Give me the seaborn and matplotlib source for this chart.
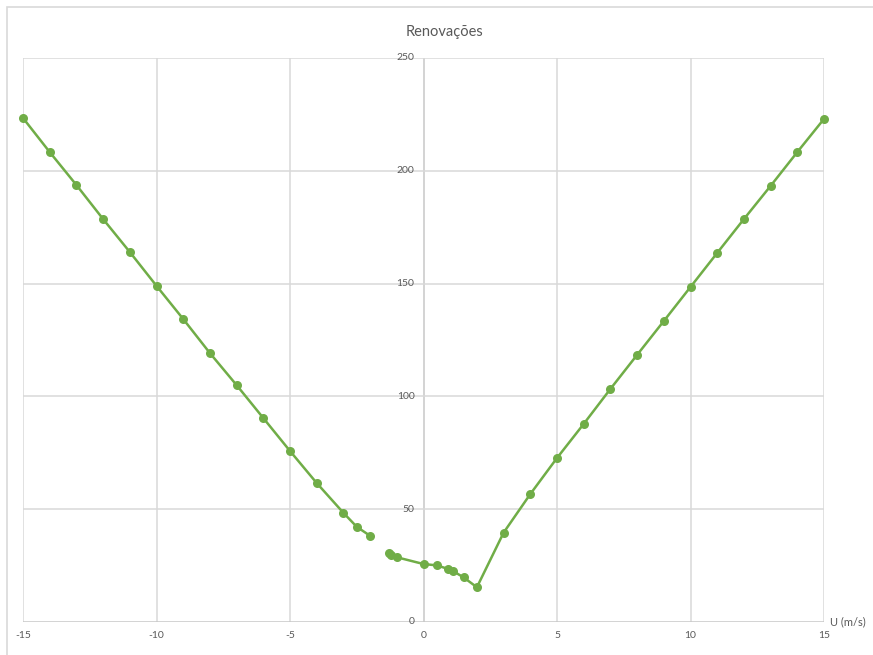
import matplotlib
matplotlib.use("Agg")
import matplotlib.pyplot as plt
import seaborn as sns
import pandas as pd
from matplotlib.patches import Rectangle

# ---- data ----
u_left = [-15, -14, -13, -12, -11, -10, -9, -8, -7, -6, -5, -4, -3, -2.5, -2]
renov_left = [223.4, 208.3, 193.7, 178.6, 164.0, 149.0, 134.3, 119.2, 105.0, 90.4,
              75.8, 61.6, 48.4, 42.2, 38.2]
u_right = [-1.3, -1.2, -1.0, 0.0, 0.5, 0.9, 1.1, 1.5, 2.0, 3, 4, 5, 6, 7, 8, 9,
           10, 11, 12, 13, 14, 15]
renov_right = [30.7, 29.7, 28.7, 25.7, 25.1, 23.6, 22.6, 19.8, 15.4, 39.6, 56.7,
               72.7, 87.8, 103.3, 118.4, 133.4, 148.5, 163.6, 178.6, 193.3, 208.3, 223.0]
x_ticks = [-15, -10, -5, 0, 5, 10, 15]
y_ticks = [0, 50, 100, 150, 200, 250]
title = "Renovações"
x_label = "U (m/s)"

sns.set_theme(style="white")
plt.rcParams['font.family'] = ['Lato', 'DejaVu Sans']

W, H = 873, 655
fig = plt.figure(figsize=(W / 100, H / 100), dpi=100)
ax = fig.add_axes([23 / W, 1 - 622 / H, (824 - 23) / W, (622 - 58) / H])

green = "#70AD47"
grid_c = "#d9d9d9"
txt_c = "#595959"

ax.set_xlim(-15, 15)
ax.set_ylim(0, 250)
for x in x_ticks:
    ax.axvline(x, color="#c8c8c8" if x == 0 else grid_c, lw=1.1, zorder=0)
for y in y_ticks:
    ax.axhline(y, color="#c8c8c8" if y == 0 else grid_c, lw=1.1, zorder=0)

for xs, ys in [(u_left, renov_left), (u_right, renov_right)]:
    df = pd.DataFrame({"u": xs, "r": ys})
    sns.lineplot(data=df, x="u", y="r", ax=ax, sort=False, color=green, lw=1.8,
                 marker="o", markersize=6.5, markeredgewidth=0, clip_on=False,
                 zorder=3)

for s in ax.spines.values():
    s.set_visible(False)
ax.set_xticks([])
ax.set_yticks([])
ax.set_xlabel("")
ax.set_ylabel("")

# x tick labels
for x in x_ticks:
    ax.annotate(str(x), xy=(x, 0), xytext=(0, -10), textcoords="offset points",
                ha="center", va="center", fontsize=7.5, color=txt_c,
                annotation_clip=False)
# y tick labels next to the y-axis at x=0
for y in y_ticks:
    ax.annotate(str(y), xy=(0, y), xytext=(-6.5, 0), textcoords="offset points",
                ha="right", va="center", fontsize=7.5, color=txt_c,
                annotation_clip=False)

fig.text(830 / W, 1 - 622 / H, x_label, ha="left", va="center", fontsize=8,
         color=txt_c)
fig.text(445 / W, 1 - 32 / H, title, ha="center", va="center", fontsize=10.5,
         color=txt_c)

# chart border (top & left visible)
fig.patches.append(Rectangle((7 / W, -0.1), 1.2, 1 - 6.5 / H + 0.1,
                             transform=fig.transFigure, fill=False,
                             edgecolor="#d9d9d9", lw=1.2))

fig.savefig("out.png", dpi=100, facecolor="white")
